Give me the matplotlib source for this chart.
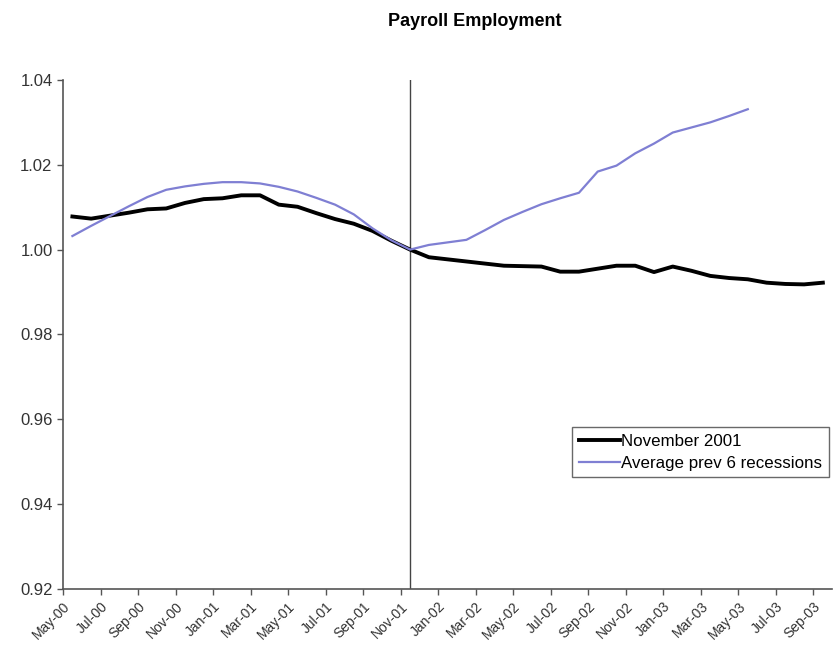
import numpy as np
import matplotlib
matplotlib.use('Agg')
import matplotlib.pyplot as plt

plt.rcParams['font.family'] = ['Liberation Sans', 'DejaVu Sans']

months = ['May-00', 'Jun-00', 'Jul-00', 'Aug-00', 'Sep-00', 'Oct-00', 'Nov-00', 'Dec-00',
          'Jan-01', 'Feb-01', 'Mar-01', 'Apr-01', 'May-01', 'Jun-01', 'Jul-01', 'Aug-01',
          'Sep-01', 'Oct-01', 'Nov-01', 'Dec-01', 'Jan-02', 'Feb-02', 'Mar-02', 'Apr-02',
          'May-02', 'Jun-02', 'Jul-02', 'Aug-02', 'Sep-02', 'Oct-02', 'Nov-02', 'Dec-02',
          'Jan-03', 'Feb-03', 'Mar-03', 'Apr-03', 'May-03', 'Jun-03', 'Jul-03', 'Aug-03',
          'Sep-03']

nov_2001 = [1.0078, 1.0073, 1.0080, 1.0087, 1.0095, 1.0097, 1.0110, 1.0119, 1.0121, 1.0128,
            1.0128, 1.0106, 1.0101, 1.0086, 1.0072, 1.0061, 1.0044, 1.0021, 1.0000, 0.9982,
            0.9977, 0.9972, 0.9967, 0.9962, 0.9961, 0.9960, 0.9948, 0.9948, 0.9955, 0.9962,
            0.9962, 0.9947, 0.9960, 0.9950, 0.9938, 0.9933, 0.9930, 0.9922, 0.9919, 0.9918,
            0.9922]

avg_prev6 = [1.0032, 1.0056, 1.0079, 1.0102, 1.0124, 1.0141, 1.0149, 1.0155, 1.0159, 1.0159,
             1.0156, 1.0148, 1.0137, 1.0122, 1.0106, 1.0083, 1.0050, 1.0022, 1.0000, 1.0011,
             1.0017, 1.0023, 1.0046, 1.0070, 1.0089, 1.0107, 1.0121, 1.0134, 1.0184, 1.0198,
             1.0227, 1.0250, 1.0276, 1.0288, 1.0300, 1.0315, 1.0331]

trough = 'Nov-01'

fig = plt.figure(figsize=(8.37, 6.5), dpi=100)
ax = fig.add_axes([0.0753, 0.094, 0.919, 0.783])

x_black = np.arange(len(nov_2001))
x_blue = np.arange(len(avg_prev6))
ax.plot(x_black, nov_2001, color='black', lw=2.8, label='November 2001', zorder=3)
ax.plot(x_blue, avg_prev6, color='#7f7fd3', lw=1.6, label='Average prev 6 recessions', zorder=4)
ax.axvline(months.index(trough), color='#444444', lw=1.0, zorder=2)

ax.set_xlim(-0.5, len(months) - 0.5)
ax.set_ylim(0.92, 1.04)
ax.set_yticks(np.arange(0.92, 1.0401, 0.02))
ax.set_yticklabels(['%.2f' % v for v in np.arange(0.92, 1.0401, 0.02)], fontsize=12, color='#333333')

pos = np.arange(0, len(months), 2) - 0.5
ax.set_xticks(pos)
ax.set_xticklabels(months[::2], rotation=45, ha='right', rotation_mode='anchor',
                   fontsize=10, color='#333333')

for s in ['top', 'right']:
    ax.spines[s].set_visible(False)
for s in ['left', 'bottom']:
    ax.spines[s].set_color('#555555')
    ax.spines[s].set_linewidth(1.2)
ax.tick_params(direction='out', length=4, color='#555555', width=1)

leg = ax.legend(loc='upper left', bbox_to_anchor=(0.662, 0.318), fontsize=12.2, frameon=True,
                fancybox=False, edgecolor='#444444', handlelength=2.4, handletextpad=0.1,
                borderpad=0.4, labelspacing=0.4, borderaxespad=0)
leg.get_frame().set_linewidth(1.0)

fig.text(475 / 837, 1 - 21 / 650, 'Payroll Employment', ha='center', va='center',
         fontsize=13, fontweight='bold')

fig.savefig('out.png', dpi=100)
